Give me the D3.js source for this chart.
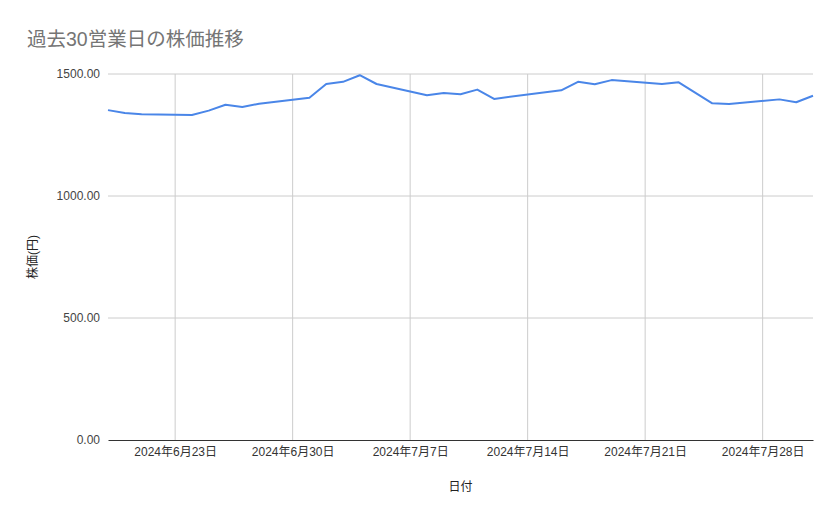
<!DOCTYPE html>
<html>
<head>
<meta charset="utf-8">
<script src="https://cdn.jsdelivr.net/npm/d3@7/dist/d3.min.js"></script>
<style>
  body { margin: 0; background: #fff; }
  text { font-family: "Liberation Sans", Arial, "Noto Sans CJK JP", sans-serif; }
</style>
</head>
<body>
<div id="chart"></div>
<script>
const title = "過去30営業日の株価推移";
const xTitle = "日付";
const yTitle = "株価(円)";

const dates = [
  "2024-06-19", "2024-06-20", "2024-06-21", "2024-06-24", "2024-06-25",
  "2024-06-26", "2024-06-27", "2024-06-28", "2024-07-01", "2024-07-02",
  "2024-07-03", "2024-07-04", "2024-07-05", "2024-07-08", "2024-07-09",
  "2024-07-10", "2024-07-11", "2024-07-12", "2024-07-16", "2024-07-17",
  "2024-07-18", "2024-07-19", "2024-07-22", "2024-07-23", "2024-07-25",
  "2024-07-26", "2024-07-29", "2024-07-30", "2024-07-31"
];
const prices = [
  1352, 1340, 1335, 1332, 1350,
  1374, 1365, 1378, 1403, 1459,
  1468, 1495, 1459, 1413, 1422,
  1417, 1436, 1398, 1433, 1468,
  1458, 1475, 1459, 1466, 1380,
  1377, 1396, 1384, 1411
];
const yTicks = [0, 500, 1000, 1500];
const xTicks = ["2024-06-23", "2024-06-30", "2024-07-07", "2024-07-14", "2024-07-21", "2024-07-28"];

const width = 839, height = 519;
const margin = { top: 74, right: 26, bottom: 79, left: 108 };
const innerW = width - margin.left - margin.right;
const innerH = height - margin.top - margin.bottom;

const parse = d3.timeParse("%Y-%m-%d");
const data = dates.map((d, i) => ({ date: parse(d), price: prices[i] }));

const svg = d3.select("#chart").append("svg")
  .attr("width", width)
  .attr("height", height);

svg.append("text")
  .attr("x", 27)
  .attr("y", 46)
  .style("font-size", "19.5px")
  .style("fill", "#757575")
  .text(title);

const g = svg.append("g")
  .attr("transform", `translate(${margin.left},${margin.top})`);

const x = d3.scaleTime()
  .domain(d3.extent(data, d => d.date))
  .range([0, innerW]);

const y = d3.scaleLinear()
  .domain([0, 1500])
  .range([innerH, 0]);

// horizontal gridlines
g.selectAll(".hgrid")
  .data(yTicks.filter(d => d > 0))
  .enter().append("line")
  .attr("x1", 0)
  .attr("x2", innerW)
  .attr("y1", d => y(d))
  .attr("y2", d => y(d))
  .style("stroke", "#cccccc")
  .style("stroke-width", 1);

// vertical gridlines
const xTickDates = xTicks.map(parse);
g.selectAll(".vgrid")
  .data(xTickDates)
  .enter().append("line")
  .attr("x1", d => x(d))
  .attr("x2", d => x(d))
  .attr("y1", 0)
  .attr("y2", innerH)
  .style("stroke", "#cccccc")
  .style("stroke-width", 1);

// y axis labels
const yAxis = g.append("g")
  .call(d3.axisLeft(y).tickValues(yTicks).tickFormat(d3.format(".2f")).tickSize(0).tickPadding(8));
yAxis.select(".domain").remove();
yAxis.selectAll("text")
  .style("font-size", "12px")
  .style("fill", "#444");

// x axis
const xAxis = g.append("g")
  .attr("transform", `translate(0,${innerH})`)
  .call(d3.axisBottom(x)
    .tickValues(xTickDates)
    .tickFormat(d => `${d.getFullYear()}年${d.getMonth() + 1}月${d.getDate()}日`)
    .tickSize(0)
    .tickPadding(7));
xAxis.select(".domain").style("stroke", "#333").style("stroke-width", 1);
xAxis.selectAll("text")
  .style("font-size", "12px")
  .style("fill", "#333");

// line
const line = d3.line()
  .x(d => x(d.date))
  .y(d => y(d.price));

g.append("path")
  .datum(data)
  .attr("d", line)
  .style("fill", "none")
  .style("stroke", "#4a86e8")
  .style("stroke-width", 2)
  .style("stroke-linejoin", "round");

// axis titles
svg.append("text")
  .attr("x", margin.left + innerW / 2)
  .attr("y", 491)
  .style("text-anchor", "middle")
  .style("font-size", "12px")
  .style("fill", "#222")
  .text(xTitle);

svg.append("text")
  .attr("transform", `translate(37,${margin.top + innerH / 2}) rotate(-90)`)
  .style("text-anchor", "middle")
  .style("font-size", "12px")
  .style("fill", "#222")
  .text(yTitle);
</script>
</body>
</html>
